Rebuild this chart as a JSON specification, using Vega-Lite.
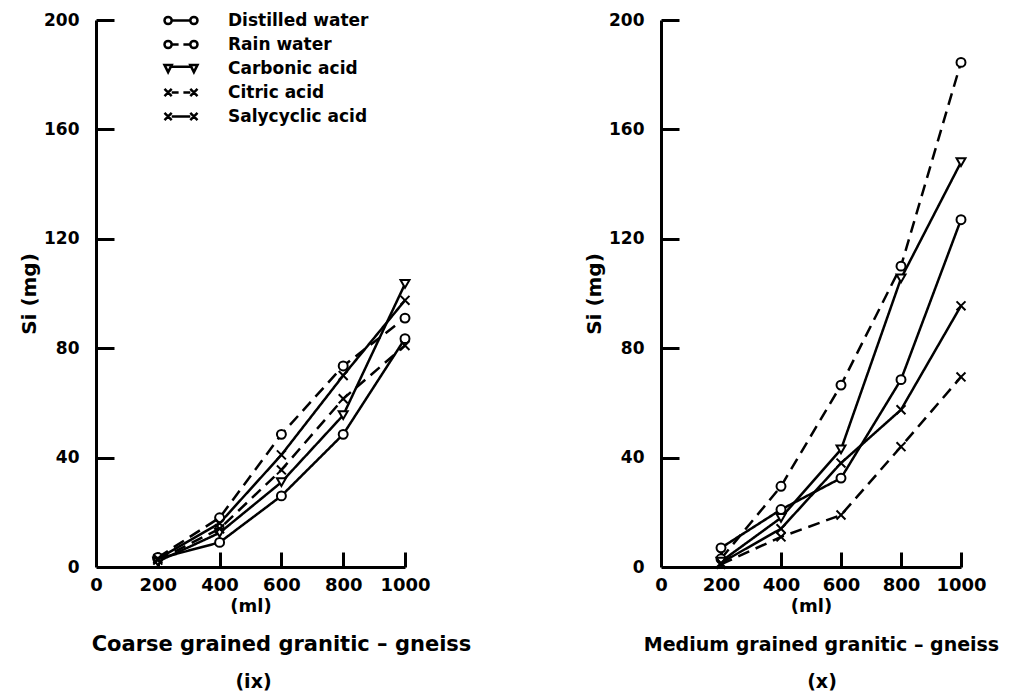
{
  "$schema": "https://vega.github.io/schema/vega-lite/v6.json",
  "background": "white",
  "padding": {"left": 19, "top": 11, "right": 5, "bottom": 5},
  "config": {
    "font": "DejaVu Sans",
    "view": {"stroke": null},
    "concat": {"spacing": 113},
    "axis": {
      "grid": false,
      "domainColor": "black",
      "domainWidth": 3,
      "tickColor": "black",
      "tickWidth": 3,
      "labelColor": "black",
      "labelFont": "DejaVu Sans",
      "labelFontWeight": "bold",
      "titleColor": "black",
      "titleFont": "DejaVu Sans",
      "titleFontWeight": "bold"
    },
    "legend": {
      "orient": "none",
      "legendX": 76.5,
      "legendY": -8,
      "symbolSize": 144,
      "symbolStrokeWidth": 2.5,
      "symbolStrokeColor": "black",
      "symbolFillColor": "transparent",
      "symbolOpacity": 1,
      "labelFontSize": 17,
      "labelFont": "DejaVu Sans",
      "labelFontWeight": "bold",
      "labelColor": "black",
      "labelOffset": 38.5,
      "rowPadding": 5
    },
    "title": {
      "color": "black",
      "font": "DejaVu Sans",
      "fontWeight": "bold",
      "fontSize": 19,
      "orient": "bottom",
      "anchor": "middle"
    }
  },
  "data": {
    "values": [
      {"panel": "ix", "series": "Distilled water", "ml": 200, "si": 3},
      {"panel": "ix", "series": "Distilled water", "ml": 400, "si": 9},
      {"panel": "ix", "series": "Distilled water", "ml": 600, "si": 26},
      {"panel": "ix", "series": "Distilled water", "ml": 800, "si": 48.5},
      {"panel": "ix", "series": "Distilled water", "ml": 1000, "si": 83.5},
      {"panel": "ix", "series": "Rain water", "ml": 200, "si": 3.5},
      {"panel": "ix", "series": "Rain water", "ml": 400, "si": 18},
      {"panel": "ix", "series": "Rain water", "ml": 600, "si": 48.5},
      {"panel": "ix", "series": "Rain water", "ml": 800, "si": 73.5},
      {"panel": "ix", "series": "Rain water", "ml": 1000, "si": 91},
      {"panel": "ix", "series": "Carbonic acid", "ml": 200, "si": 2},
      {"panel": "ix", "series": "Carbonic acid", "ml": 400, "si": 12.5},
      {"panel": "ix", "series": "Carbonic acid", "ml": 600, "si": 31},
      {"panel": "ix", "series": "Carbonic acid", "ml": 800, "si": 55.5},
      {"panel": "ix", "series": "Carbonic acid", "ml": 1000, "si": 103.5},
      {"panel": "ix", "series": "Citric acid", "ml": 200, "si": 2.5},
      {"panel": "ix", "series": "Citric acid", "ml": 400, "si": 14},
      {"panel": "ix", "series": "Citric acid", "ml": 600, "si": 35.5},
      {"panel": "ix", "series": "Citric acid", "ml": 800, "si": 61.5},
      {"panel": "ix", "series": "Citric acid", "ml": 1000, "si": 81},
      {"panel": "ix", "series": "Salycyclic acid", "ml": 200, "si": 3},
      {"panel": "ix", "series": "Salycyclic acid", "ml": 400, "si": 16},
      {"panel": "ix", "series": "Salycyclic acid", "ml": 600, "si": 41},
      {"panel": "ix", "series": "Salycyclic acid", "ml": 800, "si": 70},
      {"panel": "ix", "series": "Salycyclic acid", "ml": 1000, "si": 97.5},
      {"panel": "x", "series": "Distilled water", "ml": 200, "si": 7},
      {"panel": "x", "series": "Distilled water", "ml": 400, "si": 21},
      {"panel": "x", "series": "Distilled water", "ml": 600, "si": 32.5},
      {"panel": "x", "series": "Distilled water", "ml": 800, "si": 68.5},
      {"panel": "x", "series": "Distilled water", "ml": 1000, "si": 127},
      {"panel": "x", "series": "Rain water", "ml": 200, "si": 3},
      {"panel": "x", "series": "Rain water", "ml": 400, "si": 29.5},
      {"panel": "x", "series": "Rain water", "ml": 600, "si": 66.5},
      {"panel": "x", "series": "Rain water", "ml": 800, "si": 110},
      {"panel": "x", "series": "Rain water", "ml": 1000, "si": 184.5},
      {"panel": "x", "series": "Carbonic acid", "ml": 200, "si": 2},
      {"panel": "x", "series": "Carbonic acid", "ml": 400, "si": 18},
      {"panel": "x", "series": "Carbonic acid", "ml": 600, "si": 43},
      {"panel": "x", "series": "Carbonic acid", "ml": 800, "si": 105.5},
      {"panel": "x", "series": "Carbonic acid", "ml": 1000, "si": 148},
      {"panel": "x", "series": "Citric acid", "ml": 200, "si": 1},
      {"panel": "x", "series": "Citric acid", "ml": 400, "si": 11},
      {"panel": "x", "series": "Citric acid", "ml": 600, "si": 19},
      {"panel": "x", "series": "Citric acid", "ml": 800, "si": 44},
      {"panel": "x", "series": "Citric acid", "ml": 1000, "si": 69.5},
      {"panel": "x", "series": "Salycyclic acid", "ml": 200, "si": 1.5},
      {"panel": "x", "series": "Salycyclic acid", "ml": 400, "si": 14},
      {"panel": "x", "series": "Salycyclic acid", "ml": 600, "si": 38},
      {"panel": "x", "series": "Salycyclic acid", "ml": 800, "si": 57.5},
      {"panel": "x", "series": "Salycyclic acid", "ml": 1000, "si": 95.5}
    ]
  },
  "resolve": {"scale": {"shape": "independent", "strokeDash": "shared"}, "legend": {"shape": "independent", "strokeDash": "shared"}},
  "hconcat": [
    {
      "width": 309,
      "height": 547,
      "transform": [{"filter": "datum.panel == 'ix'"}],
      "title": {"text": "(ix)", "dx": 3, "offset": 19},
      "resolve": {"axis": {"x": "independent", "y": "independent"}, "scale": {"shape": "independent"}, "legend": {"shape": "independent"}},
      "layer": [
        {"mark": {"type": "line", "stroke": "black", "strokeWidth": 2.5},
          "encoding": {
            "x": {"field": "ml", "type": "quantitative", "scale": {"domain": [0, 1000], "nice": false},
              "axis": {"values": [0, 200, 400, 600, 800, 1000], "format": "d", "title": "(ml)", "ticks": false, "labelFontSize": 18, "labelPadding": 9, "titleFontSize": 18, "titlePadding": 3, "labelFlush": false, "labelOverlap": false}},
            "y": {"field": "si", "type": "quantitative", "scale": {"domain": [0, 200], "nice": false},
              "axis": {"values": [0, 40, 80, 120, 160, 200], "format": "d", "title": "Si (mg)", "ticks": false, "labelFontSize": 17, "labelPadding": 17, "titleFontSize": 20, "titlePadding": 4, "labelFlush": false}},
            "strokeDash": {"field": "series", "type": "nominal",
              "scale": {"domain": ["Rain water", "Distilled water", "Carbonic acid", "Citric acid", "Salycyclic acid"], "range": [[12, 7], [1, 0], [1, 0], [12, 7], [1, 0]]},
              "legend": null}}},
        {"mark": {"type": "point", "filled": true, "fill": "white", "stroke": "black", "strokeWidth": 2, "size": 80, "opacity": 1},
          "encoding": {
            "x": {"field": "ml", "type": "quantitative",
              "axis": {"orient": "bottom", "offset": -15, "values": [200, 400, 600, 800, 1000], "tickSize": 15, "labels": false, "domain": false,
                "title": "Coarse grained granitic – gneiss", "titleFontSize": 21, "titleX": 185, "titleY": 92, "titleAlign": "center", "titleBaseline": "middle", "titleAnchor": null}},
            "y": {"field": "si", "type": "quantitative",
              "axis": {"orient": "left", "offset": -18, "values": [40, 80, 120, 160, 200], "tickSize": 18, "labels": false, "domain": false, "title": null}},
            "shape": {"field": "series", "type": "nominal",
              "scale": {"domain": ["Carbonic acid", "Distilled water", "Rain water", "Citric acid", "Salycyclic acid"], "range": ["triangle-down", "circle", "circle", "M-1,-1L1,1M1,-1L-1,1", "M-1,-1L1,1M1,-1L-1,1"]},
              "legend": null}}},
        {"mark": {"type": "point", "filled": false, "stroke": "black", "strokeWidth": 2.5, "size": 144, "opacity": 0},
          "encoding": {
            "x": {"field": "ml", "type": "quantitative", "axis": null},
            "y": {"field": "si", "type": "quantitative", "axis": null},
            "shape": {"field": "series", "type": "nominal",
              "scale": {"domain": ["Distilled water", "Rain water", "Carbonic acid", "Citric acid", "Salycyclic acid"],
                "range": [
                  "M-2.75,0A0.6,0.6,0,1,1,-1.55,0A0.6,0.6,0,1,1,-2.75,0M-1.55,0L1.55,0M1.55,0A0.6,0.6,0,1,1,2.75,0A0.6,0.6,0,1,1,1.55,0",
                  "M-2.75,0A0.6,0.6,0,1,1,-1.55,0A0.6,0.6,0,1,1,-2.75,0M-1.55,0L-0.4,0M0.4,0L1.55,0M1.55,0A0.6,0.6,0,1,1,2.75,0A0.6,0.6,0,1,1,1.55,0",
                  "M-2.75,-0.6L-1.55,-0.6L-2.15,0.6ZM-1.55,-0.3L1.55,-0.3M1.55,-0.6L2.75,-0.6L2.15,0.6Z",
                  "M-2.75,-0.6L-1.55,0.6M-2.75,0.6L-1.55,-0.6M-1.55,0L-0.4,0M0.4,0L1.55,0M1.55,-0.6L2.75,0.6M1.55,0.6L2.75,-0.6",
                  "M-2.75,-0.6L-1.55,0.6M-2.75,0.6L-1.55,-0.6M-1.55,0L1.55,0M1.55,-0.6L2.75,0.6M1.55,0.6L2.75,-0.6"
                ]},
              "legend": {"title": null, "symbolOpacity": 1, "symbolStrokeColor": "black", "symbolFillColor": "transparent", "symbolStrokeWidth": 2.5}}}}
      ]
    },
    {
      "width": 300,
      "height": 547,
      "transform": [{"filter": "datum.panel == 'x'"}],
      "title": {"text": "(x)", "dx": 11, "offset": 19},
      "resolve": {"axis": {"x": "independent", "y": "independent"}},
      "layer": [
        {"mark": {"type": "line", "stroke": "black", "strokeWidth": 2.5},
          "encoding": {
            "x": {"field": "ml", "type": "quantitative", "scale": {"domain": [0, 1000], "nice": false},
              "axis": {"values": [0, 200, 400, 600, 800, 1000], "format": "d", "title": "(ml)", "ticks": false, "labelFontSize": 18, "labelPadding": 9, "titleFontSize": 18, "titlePadding": 3, "labelFlush": false, "labelOverlap": false}},
            "y": {"field": "si", "type": "quantitative", "scale": {"domain": [0, 200], "nice": false},
              "axis": {"values": [0, 40, 80, 120, 160, 200], "format": "d", "title": "Si (mg)", "ticks": false, "labelFontSize": 17, "labelPadding": 17, "titleFontSize": 20, "titlePadding": 4, "labelFlush": false}},
            "strokeDash": {"field": "series", "type": "nominal",
              "scale": {"domain": ["Rain water", "Distilled water", "Carbonic acid", "Citric acid", "Salycyclic acid"], "range": [[12, 7], [1, 0], [1, 0], [12, 7], [1, 0]]},
              "legend": null}}},
        {"mark": {"type": "point", "filled": true, "fill": "white", "stroke": "black", "strokeWidth": 2, "size": 80, "opacity": 1},
          "encoding": {
            "x": {"field": "ml", "type": "quantitative",
              "axis": {"orient": "bottom", "offset": -15, "values": [200, 400, 600, 800, 1000], "tickSize": 15, "labels": false, "domain": false,
                "title": "Medium grained granitic – gneiss", "titleFontSize": 19, "titleX": 160, "titleY": 92, "titleAlign": "center", "titleBaseline": "middle", "titleAnchor": null}},
            "y": {"field": "si", "type": "quantitative",
              "axis": {"orient": "left", "offset": -18, "values": [40, 80, 120, 160, 200], "tickSize": 18, "labels": false, "domain": false, "title": null}},
            "shape": {"field": "series", "type": "nominal",
              "scale": {"domain": ["Carbonic acid", "Distilled water", "Rain water", "Citric acid", "Salycyclic acid"], "range": ["triangle-down", "circle", "circle", "M-1,-1L1,1M1,-1L-1,1", "M-1,-1L1,1M1,-1L-1,1"]},
              "legend": null}}}
      ]
    }
  ]
}
